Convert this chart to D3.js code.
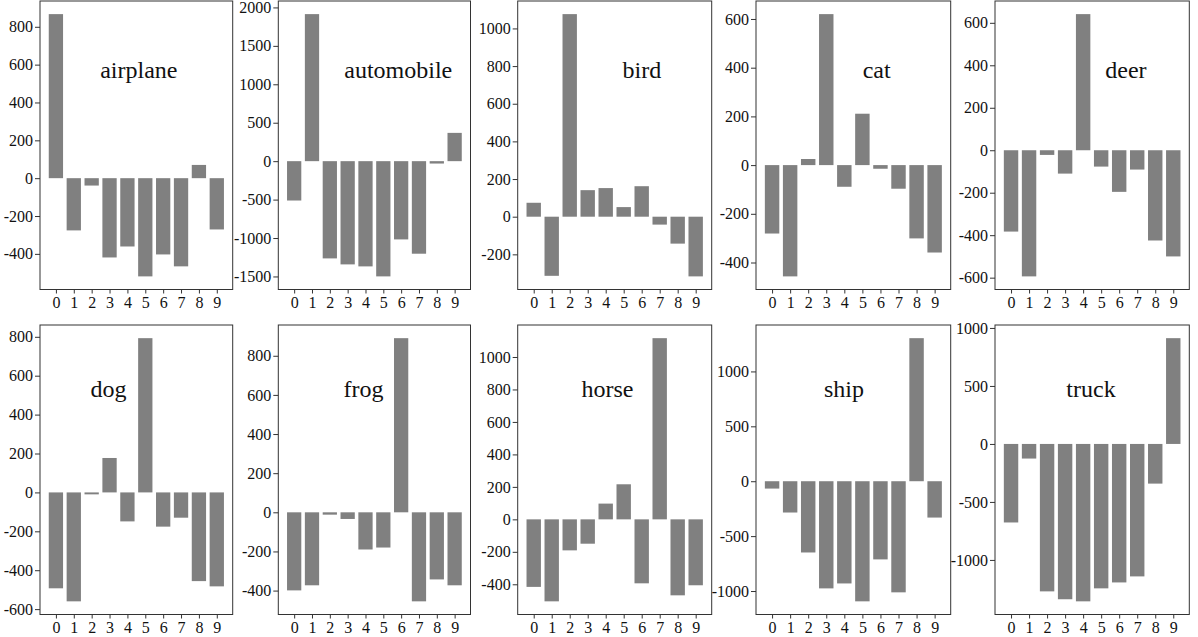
<!DOCTYPE html>
<html>
<head>
<meta charset="utf-8">
<script src="https://cdn.jsdelivr.net/npm/d3@7"></script>
<style>
  html, body { margin: 0; padding: 0; background: #fff; }
  svg { display: block; }
  text { font-family: "Liberation Serif", "Times New Roman", serif; }
</style>
</head>
<body>
<script>
// ---------------- data ----------------
const categories = ["0", "1", "2", "3", "4", "5", "6", "7", "8", "9"];
const classNames = ["airplane", "automobile", "bird", "cat", "deer",
                    "dog", "frog", "horse", "ship", "truck"];

const airplane   = [867, -276, -39, -419, -361, -519, -403, -466, 70, -271];
const automobile = [-512, 1913, -1265, -1343, -1369, -1499, -1018, -1204, -31, 368];
const bird       = [74, -314, 1076, 141, 152, 51, 162, -42, -143, -317];
const cat        = [-281, -457, 25, 620, -89, 211, -15, -97, -301, -359];
const deer       = [-383, -594, -22, -110, 641, -77, -196, -91, -425, -500];
const dog        = [-493, -560, -10, 177, -149, 793, -176, -130, -456, -483];
const frog       = [-399, -373, -12, -34, -190, -180, 890, -455, -343, -373];
const horse      = [-416, -505, -191, -150, 97, 216, -394, 1116, -468, -406];
const ship       = [-67, -285, -649, -976, -931, -1094, -712, -1012, 1303, -331];
const truck      = [-677, -126, -1271, -1339, -1357, -1245, -1194, -1142, -342, 912];

const seriesList = [airplane, automobile, bird, cat, deer, dog, frog, horse, ship, truck];
const tickSteps  = [200, 500, 200, 200, 200, 200, 200, 200, 500, 500];

// ---------------- layout ----------------
const W = 1198, H = 637;
const colLeft  = [40, 278.3, 517.7, 756, 995];
const colRight = [232.7, 470.5, 711.7, 950.7, 1189.3];
const rowTop    = [1, 325];
const rowBottom = [289.5, 614.5];
const labelFrac = [0.513, 0.624, 0.64, 0.62, 0.674, 0.355, 0.443, 0.463, 0.452, 0.494];
const labelBaseline = [78, 397];
const barColor = "#808080";
const tickFont = 16;

const svg = d3.select("body").append("svg")
  .attr("width", W).attr("height", H);

seriesList.forEach((vals, i) => {
  const col = i % 5, row = Math.floor(i / 5);
  const x0 = colLeft[col], x1 = colRight[col];
  const y0 = rowTop[row], y1 = rowBottom[row];

  const mn = Math.min(0, d3.min(vals)), mx = Math.max(0, d3.max(vals));
  const pad = (mx - mn) * 0.05;
  const y = d3.scaleLinear().domain([mn - pad, mx + pad]).range([y1, y0]);
  const xPad = (9.4 + 0.4) * 0.05;
  const x = d3.scaleLinear().domain([-0.4 - xPad, 9.4 + xPad]).range([x0, x1]);

  const g = svg.append("g");

  // bars
  g.selectAll("rect.bar").data(vals).enter().append("rect")
    .attr("class", "bar")
    .attr("x", (d, j) => x(j - 0.4))
    .attr("width", (d, j) => x(j + 0.4) - x(j - 0.4))
    .attr("y", d => y(Math.max(0, d)))
    .attr("height", d => Math.abs(y(d) - y(0)))
    .attr("fill", barColor);

  // y axis
  const step = tickSteps[i];
  const ticks = d3.range(Math.ceil((mn - pad) / step) * step, mx + pad + 1e-9, step);
  const ya = g.append("g").attr("transform", `translate(${x0},0)`)
    .call(d3.axisLeft(y).tickValues(ticks).tickSize(5).tickPadding(2)
      .tickFormat(d => String(d)));
  ya.select(".domain").remove();
  ya.selectAll("text").attr("font-size", tickFont).attr("fill", "#111")
    .style("font-family", '"Liberation Serif", "Times New Roman", serif');
  ya.selectAll("line").attr("stroke", "#333");

  // x axis
  const xa = g.append("g").attr("transform", `translate(0,${y1})`)
    .call(d3.axisBottom(x).tickValues(d3.range(categories.length)).tickSize(4).tickPadding(3)
      .tickFormat(j => categories[j]));
  xa.select(".domain").remove();
  xa.selectAll("text").attr("font-size", tickFont).attr("fill", "#111")
    .style("font-family", '"Liberation Serif", "Times New Roman", serif');
  xa.selectAll("line").attr("stroke", "#333");

  // frame
  g.append("rect")
    .attr("x", x0).attr("y", y0)
    .attr("width", x1 - x0).attr("height", y1 - y0)
    .attr("fill", "none").attr("stroke", "#333").attr("stroke-width", 1);

  // class label
  g.append("text")
    .attr("x", x0 + (x1 - x0) * labelFrac[i])
    .attr("y", labelBaseline[row])
    .attr("text-anchor", "middle")
    .attr("font-size", 24)
    .attr("fill", "#111")
    .text(classNames[i]);
});
</script>
</body>
</html>
